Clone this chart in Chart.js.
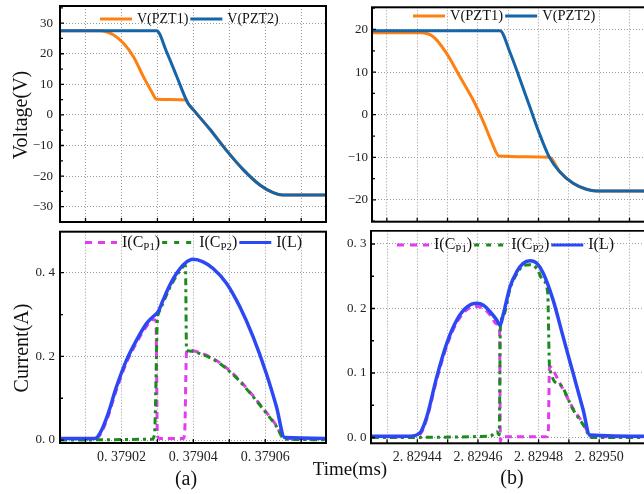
<!DOCTYPE html>
<html>
<head>
<meta charset="utf-8">
<script src="https://cdn.jsdelivr.net/npm/chart.js@4.4.0/dist/chart.umd.min.js"></script>
<style>
  html, body { margin: 0; padding: 0; background: #fff; }
  #wrap { position: relative; width: 644px; height: 494px; overflow: hidden;
          font-family: 'Liberation Serif', 'Times New Roman', serif; color: #111; }
  canvas { position: absolute; }
  .lbl { position: absolute; white-space: nowrap; line-height: 1; transform: translate(-50%, -50%); }
  .rot { transform: translate(-50%, -50%) rotate(-90deg); }
</style>
</head>
<body>
<div id="wrap">
  <canvas id="va" width="330" height="230" style="left:0;top:0"></canvas>
  <canvas id="vb" width="330" height="230" style="left:320px;top:0"></canvas>
  <canvas id="ia" width="330" height="264" style="left:0;top:230px"></canvas>
  <canvas id="ib" width="330" height="264" style="left:320px;top:230px"></canvas>
  <div class="lbl rot" style="left:20px;top:115px;font-size:20px">Voltage(V)</div>
  <div class="lbl rot" style="left:21px;top:348px;font-size:20px">Current(A)</div>
  <div class="lbl" style="left:350px;top:468px;font-size:19px">Time(ms)</div>
  <div class="lbl" style="left:186px;top:478px;font-size:20px">(a)</div>
  <div class="lbl" style="left:512px;top:477px;font-size:20px">(b)</div>
</div>
<script>
// ---- (a) voltages, time in ms ----
const tA_v1 = [0.3790029, 0.379014, 0.3790177, 0.3790205, 0.3790233, 0.3790261, 0.3790284, 0.3790298,
               0.379038, 0.3790385, 0.3790399, 0.3790446, 0.3790492, 0.3790538, 0.3790585, 0.3790622, 0.3790649, 0.3790769];
const vPzt1A = [27.5, 27.5, 26.2, 23.5, 19.1, 12.5, 7.6, 5.1,
                4.9, 3.8, 1.8, -4.7, -11.6, -17.8, -22.9, -25.4, -26.2, -26.2];
const tA_v2 = [0.3790029, 0.3790298, 0.3790325, 0.3790353, 0.3790385, 0.3790399, 0.3790446, 0.3790492,
               0.3790538, 0.3790585, 0.3790622, 0.3790649, 0.3790769];
const vPzt2A = [27.5, 27.5, 20.8, 12.8, 3.8, 1.8, -4.7, -11.6, -17.8, -22.9, -25.4, -26.2, -26.2];

// ---- (b) voltages ----
const tB_v1 = [2.829425, 2.829441, 2.8294453, 2.8294497, 2.8294541, 2.8294585, 2.8294618, 2.8294645, 2.829467,
               2.8294836, 2.829487, 2.8294914, 2.8294958, 2.8294991, 2.829517];
const vPzt1B = [19.2, 19.2, 18.3, 14.4, 8.9, 3.4, -1.6, -6.3, -9.7, -10.0, -13.4, -16.1, -17.5, -17.9, -17.9];
const tB_v2 = [2.829425, 2.8294673, 2.8294706, 2.8294738, 2.8294771, 2.8294804, 2.8294836, 2.829487,
               2.8294914, 2.8294958, 2.8294991, 2.829517];
const vPzt2B = [19.7, 19.7, 14.6, 8.5, 1.9, -4.6, -10.0, -13.4, -16.1, -17.5, -17.9, -17.9];

// ---- (a) currents ----
const tA_iL = [0.3790029, 0.3790126, 0.379014, 0.379016, 0.3790186, 0.3790214, 0.3790242, 0.379027, 0.3790288,
               0.3790302, 0.3790316, 0.3790335, 0.3790353, 0.3790376, 0.3790399, 0.3790427, 0.3790455, 0.3790492,
               0.3790529, 0.3790566, 0.3790603, 0.3790631, 0.3790654, 0.3790769];
const iLA = [0.004, 0.004, 0.016, 0.056, 0.127, 0.191, 0.239, 0.279, 0.295,
             0.307, 0.335, 0.371, 0.398, 0.422, 0.432, 0.426, 0.410, 0.375,
             0.319, 0.247, 0.159, 0.080, 0.006, 0.004];
const tA_c1 = [0.3790029, 0.3790126, 0.379014, 0.379016, 0.3790186, 0.3790214, 0.3790242, 0.379027, 0.3790288,
               0.3790296, 0.3790300, 0.3790306, 0.3790372, 0.3790376, 0.3790381, 0.3790389, 0.379042, 0.3790455,
               0.379049, 0.3790525, 0.379056, 0.3790595, 0.379063, 0.3790654, 0.3790769];
const iCp1A = [0.003, 0.003, 0.012, 0.050, 0.120, 0.185, 0.233, 0.272, 0.288,
               0.285, 0.010, 0.004, 0.004, 0.020, 0.210, 0.215, 0.208, 0.195,
               0.174, 0.146, 0.112, 0.075, 0.036, 0.004, 0.003];
const tA_c2 = [0.3790029, 0.3790285, 0.3790292, 0.3790300, 0.3790302, 0.3790316, 0.3790335, 0.3790353, 0.3790372,
               0.3790378, 0.3790381, 0.3790389, 0.379042, 0.3790455, 0.379049, 0.3790525, 0.379056, 0.3790595,
               0.379063, 0.3790654, 0.3790769];
const iCp2A = [0.000, 0.002, 0.015, 0.290, 0.300, 0.328, 0.365, 0.392, 0.415,
               0.418, 0.215, 0.213, 0.206, 0.193, 0.172, 0.144, 0.110, 0.073,
               0.034, 0.002, 0.001];

// ---- (b) currents ----
const tB_iL = [2.829425, 2.8294376, 2.8294409, 2.8294431, 2.8294464, 2.8294497, 2.829453, 2.8294563, 2.8294596,
               2.8294618, 2.829464, 2.8294662, 2.8294673, 2.8294684, 2.8294706, 2.8294728, 2.8294749, 2.8294772,
               2.8294794, 2.8294815, 2.8294848, 2.8294881, 2.8294914, 2.8294947, 2.8294969, 2.829517];
const iLB = [0.002, 0.002, 0.0075, 0.032, 0.094, 0.146, 0.182, 0.202, 0.208,
             0.205, 0.195, 0.182, 0.174, 0.192, 0.234, 0.257, 0.270, 0.274,
             0.270, 0.255, 0.213, 0.156, 0.0995, 0.043, 0.004, 0.002];
const tB_c1 = [2.829425, 2.8294376, 2.8294409, 2.8294431, 2.8294464, 2.8294497, 2.829453, 2.8294563, 2.8294596,
               2.8294618, 2.829464, 2.8294662, 2.8294671, 2.8294674, 2.8294678, 2.8294827, 2.8294832, 2.8294836,
               2.829487, 2.8294914, 2.8294947, 2.8294975, 2.829517];
const iCp1B = [0.001, 0.001, 0.005, 0.029, 0.090, 0.142, 0.178, 0.198, 0.203,
               0.200, 0.190, 0.176, 0.170, -0.006, 0.001, 0.001, 0.010, 0.110,
               0.084, 0.045, 0.022, 0.001, 0.001];
const tB_c2 = [2.829425, 2.829464, 2.8294662, 2.8294670, 2.8294674, 2.8294684, 2.8294706, 2.8294728, 2.8294749,
               2.8294772, 2.8294794, 2.8294815, 2.8294830, 2.8294836, 2.829487, 2.8294914, 2.8294947, 2.8294975,
               2.829517];
const iCp2B = [0.000, 0.002, 0.009, 0.004, 0.172, 0.189, 0.231, 0.254, 0.266,
               0.268, 0.262, 0.243, 0.225, 0.110, 0.082, 0.043, 0.020, 0.000,
               0.000];

const FONT = "'Liberation Serif', 'Times New Roman', serif";
const ORANGE = '#ff8012';
const STEEL = '#1565a8';
const BLUE = '#2c48f4';
const MAGENTA = '#e23cf0';
const GREEN = '#1b8c1b';

Chart.defaults.font.family = FONT;
Chart.defaults.color = '#111';

const pts = (ts, vs) => ts.map((t, i) => ({ x: t, y: vs[i] }));

function msLabel(v) {
  const n = Math.round(v * 1e5);
  if (Math.abs(v * 1e5 - n) > 1e-3 || n % 2) return '';
  return (n / 1e5).toFixed(5).replace('.', '. ');
}
const voltLabel = v => (v < 0 ? '\u2212' + (-v) : String(v));
const ampLabel = v => v.toFixed(1).replace('.', '. ');

// legend drawn by hand so the subscripts can stay text
const legends = {
  va: { x: 100, y: 19, size: 14, items: [
    { color: ORANGE, dash: [], text: [['V(PZT1)']] },
    { color: STEEL, dash: [], text: [['V(PZT2)']] }] },
  vb: { x: 93, y: 16, size: 14.5, items: [
    { color: ORANGE, dash: [], text: [['V(PZT1)']] },
    { color: STEEL, dash: [], text: [['V(PZT2)']] }] },
  ia: { x: 85, y: 12.5, size: 16, items: [
    { color: MAGENTA, dash: [7, 6], text: [['I(C'], ['P1', 1], [')']] },
    { color: GREEN, dash: [5, 7], text: [['I(C'], ['P2', 1], [')']] },
    { color: BLUE, dash: [], text: [['I(L)']] }] },
  ib: { x: 77, y: 15, size: 16, items: [
    { color: MAGENTA, dash: [7, 6], text: [['I(C'], ['P1', 1], [')']] },
    { color: GREEN, dash: [5, 7], text: [['I(C'], ['P2', 1], [')']] },
    { color: BLUE, dash: [], text: [['I(L)']] }] }
};

const inlineLegend = {
  id: 'inlineLegend',
  afterDatasetsDraw(chart) {
    const cfg = legends[chart.canvas.id];
    if (!cfg) return;
    const ctx = chart.ctx;
    let x = cfg.x;
    ctx.save();
    ctx.textBaseline = 'middle';
    ctx.textAlign = 'left';
    cfg.items.forEach(it => {
      ctx.beginPath();
      ctx.setLineDash(it.dash);
      ctx.lineWidth = 3;
      ctx.strokeStyle = it.color;
      ctx.moveTo(x, cfg.y);
      ctx.lineTo(x + 32, cfg.y);
      ctx.stroke();
      ctx.setLineDash([]);
      x += 37;
      ctx.fillStyle = '#111';
      it.text.forEach(([s, sub]) => {
        ctx.font = (sub ? cfg.size * 0.68 : cfg.size) + 'px ' + FONT;
        ctx.fillText(s, x, sub ? cfg.y + cfg.size * 0.28 : cfg.y);
        x += ctx.measureText(s).width;
      });
      x += 2;
    });
    ctx.restore();
  }
};

// black frame plus small inward ticks, like the original plotting tool
const axisFrame = {
  id: 'axisFrame',
  afterDatasetsDraw(chart) {
    const { ctx, chartArea: a, scales: { x, y } } = chart;
    const step = chart.options.scales.y.ticks.stepSize;
    ctx.save();
    ctx.setLineDash([]);
    ctx.strokeStyle = '#000';
    ctx.lineWidth = 1.3;
    ctx.beginPath();
    x.ticks.forEach(t => {
      const px = x.getPixelForValue(t.value);
      ctx.moveTo(px, a.bottom);
      ctx.lineTo(px, a.bottom - 4);
    });
    if (y.ticks.length) {
      const vals = [y.ticks[0].value - step / 2];
      y.ticks.forEach(t => vals.push(t.value, t.value + step / 2));
      vals.forEach((v, i) => {
        if (v < y.min || v > y.max) return;
        const py = y.getPixelForValue(v);
        ctx.moveTo(a.left, py);
        ctx.lineTo(a.left + (i % 2 ? 4 : 3), py);
      });
    }
    ctx.stroke();
    ctx.lineWidth = 2;
    ctx.strokeRect(a.left, a.top, a.right - a.left, a.bottom - a.top);
    ctx.restore();
  }
};

function lineSet(label, data, color, dash, width, order, tailFrom) {
  const ds = {
    label, data, borderColor: color, borderDash: dash, borderWidth: width,
    pointRadius: 0, fill: false, cubicInterpolationMode: 'monotone', order
  };
  if (tailFrom) {
    ds.segment = { borderWidth: c => (c.p0.parsed.x >= tailFrom ? 6 : width) };
  }
  return ds;
}

function makeChart(id, datasets, o) {
  return new Chart(document.getElementById(id), {
    type: 'line',
    data: { datasets },
    plugins: [axisFrame, inlineLegend],
    options: {
      responsive: false,
      devicePixelRatio: 1,
      animation: false,
      layout: { padding: o.pad },
      plugins: { legend: { display: false }, tooltip: { enabled: false } },
      scales: {
        x: {
          type: 'linear', min: o.xMin, max: o.xMax,
          grid: { color: '#9a9a9a', lineWidth: 1, drawTicks: false },
          border: { display: false, dash: [1, 2] },
          ticks: {
            display: o.xLabels, stepSize: 1e-5, includeBounds: false, autoSkip: false,
            maxRotation: 0, padding: 6, font: { size: 14 }, color: '#222', callback: msLabel
          },
          afterFit: s => { s.height = o.xH; s.paddingLeft = s.paddingRight = 0; }
        },
        y: {
          min: o.yMin, max: o.yMax,
          grid: { color: '#9a9a9a', lineWidth: 1, drawTicks: false },
          border: { display: false, dash: [1, 2] },
          ticks: {
            stepSize: o.yStep, includeBounds: false, padding: o.yPad,
            font: { size: 13 }, color: '#222', callback: o.yFmt
          },
          afterFit: s => { s.width = o.yW; s.paddingTop = s.paddingBottom = 0; }
        }
      }
    }
  });
}

const xMinA = 0.3790029, xMaxA = 0.3790769;
const xMaxB = 2.8295161;

makeChart('va', [
  lineSet('V(PZT1)', pts(tA_v1, vPzt1A), ORANGE, [], 3, 1),
  lineSet('V(PZT2)', pts(tA_v2, vPzt2A), STEEL, [], 3, 0)
], { pad: { left: 0, right: 4, top: 6, bottom: 8 }, xMin: xMinA, xMax: xMaxA, xLabels: false, xH: 0,
     yMin: -35, yMax: 35.6, yStep: 10, yW: 60, yPad: 7, yFmt: voltLabel });

makeChart('vb', [
  lineSet('V(PZT1)', pts(tB_v1, vPzt1B), ORANGE, [], 3, 1),
  lineSet('V(PZT2)', pts(tB_v2, vPzt2B), STEEL, [], 3, 0)
], { pad: { left: 0, right: 2, top: 7.3, bottom: 8.3 }, xMin: 2.8294251, xMax: xMaxB, xLabels: false, xH: 0,
     yMin: -25.1, yMax: 25.2, yStep: 10, yW: 52, yPad: 4, yFmt: voltLabel });

makeChart('ia', [
  lineSet('I(CP1)', pts(tA_c1, iCp1A), MAGENTA, [7, 5], 3, 2),
  lineSet('I(CP2)', pts(tA_c2, iCp2A), GREEN, [7, 4, 3, 4], 3, 1),
  lineSet('I(L)', pts(tA_iL, iLA), BLUE, [], 3.5, 0, 0.3790656)
], { pad: { left: 0, right: 4, top: 1.7, bottom: 0 }, xMin: xMinA, xMax: xMaxA, xLabels: true, xH: 51,
     yMin: -0.007, yMax: 0.498, yStep: 0.2, yW: 60, yPad: 5, yFmt: ampLabel });

makeChart('ib', [
  lineSet('I(CP1)', pts(tB_c1, iCp1B), MAGENTA, [7, 5], 3, 2),
  lineSet('I(CP2)', pts(tB_c2, iCp2B), GREEN, [7, 4, 3, 4], 3, 1),
  lineSet('I(L)', pts(tB_iL, iLB), BLUE, [], 3.5, 0, 2.829497)
], { pad: { left: 0, right: 2, top: 0.7, bottom: 0 }, xMin: 2.8294247, xMax: xMaxB, xLabels: true, xH: 50.7,
     yMin: -0.009, yMax: 0.3206, yStep: 0.1, yW: 51, yPad: 4.5, yFmt: ampLabel });
</script>
</body>
</html>
